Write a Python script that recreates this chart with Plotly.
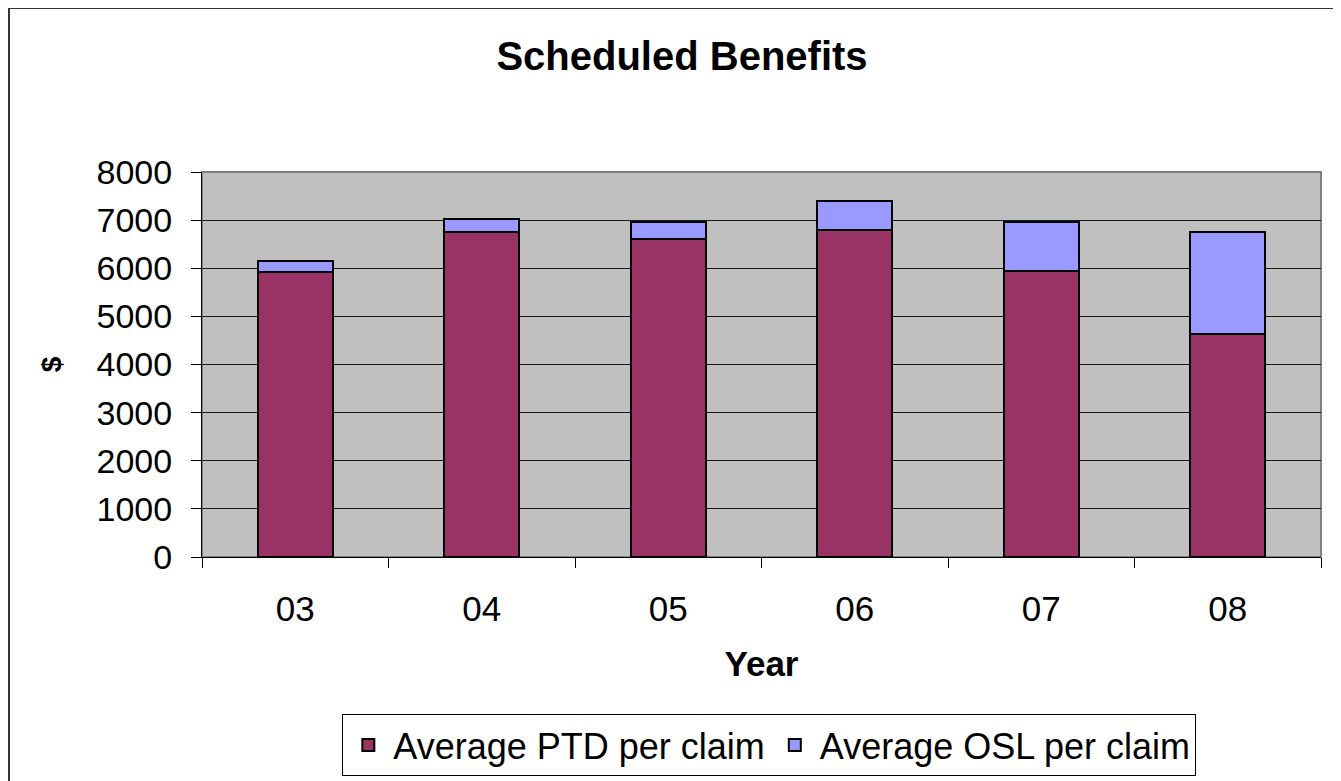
import plotly.graph_objects as go

years = ["03", "04", "05", "06", "07", "08"]
ptd = [5930, 6760, 6600, 6800, 5950, 4640]
osl = [230, 270, 370, 600, 1020, 2120]

FONT = "Liberation Sans, Arial, sans-serif"
PTD_COLOR = "#993366"
OSL_COLOR = "#9999FF"

fig = go.Figure()
fig.add_trace(go.Bar(x=years, y=ptd, name="Average PTD per claim",
                     marker=dict(color=PTD_COLOR, line=dict(color="black", width=2))))
fig.add_trace(go.Bar(x=years, y=osl, name="Average OSL per claim",
                     marker=dict(color=OSL_COLOR, line=dict(color="black", width=2))))

fig.update_layout(
    width=1341, height=781,
    barmode="stack", bargap=0.6,
    paper_bgcolor="white", plot_bgcolor="#C0C0C0",
    font=dict(family=FONT, color="black", size=34),
    margin=dict(l=194, r=28, t=164, b=232),
    title=dict(text="<b>Scheduled Benefits</b>", x=0.5026, xanchor="center",
               y=0.938, yanchor="middle", font=dict(size=40)),
    showlegend=True,
    legend=dict(orientation="h", x=0.507, xanchor="center", y=-0.408, yanchor="top",
                traceorder="normal", bordercolor="black", borderwidth=1,
                bgcolor="white", font=dict(size=36), itemwidth=40, tracegroupgap=0),
)

fig.update_xaxes(
    type="category", tickson="boundaries", ticks="outside", ticklen=10,
    tickcolor="black", showline=True, linecolor="black", linewidth=1,
    showgrid=False, tickfont=dict(size=35), ticklabelstandoff=21,
    title=dict(text="<b>Year</b>", font=dict(size=35), standoff=24),
)
fig.update_yaxes(
    range=[0, 8000], dtick=1000, ticks="outside", ticklen=10, tickcolor="black",
    showline=True, linecolor="black", linewidth=1, gridcolor="#1a1a1a", gridwidth=1,
    zeroline=False, tickfont=dict(size=34), ticklabelstandoff=12,
    title=dict(text="<b>$</b>", font=dict(size=28), standoff=26),
)

# gray plot border on top / right
fig.add_shape(type="rect", xref="paper", yref="paper", x0=0, x1=1, y0=0, y1=1,
              line=dict(color="#808080", width=2), layer="below")
# outer chart frame (left and top edges visible)
fig.add_shape(type="rect", xref="paper", yref="paper", x0=-193 / 1119, x1=1.1,
              y0=-0.8, y1=1 + 164 / 385, line=dict(color="#333333", width=2))

fig.write_html("out.html")
